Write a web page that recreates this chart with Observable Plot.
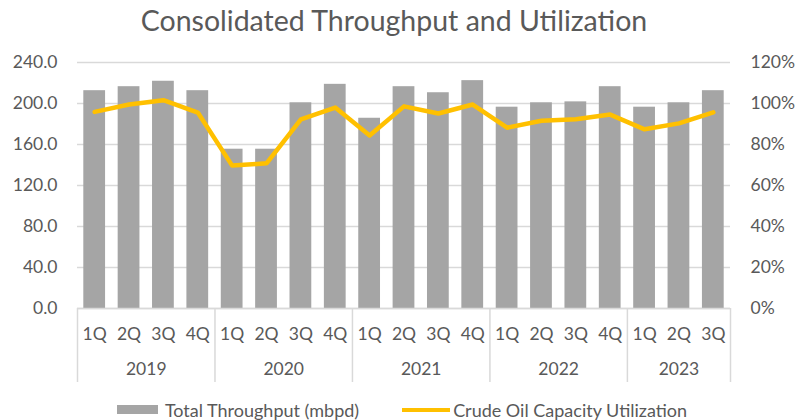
<!DOCTYPE html>
<html><head><meta charset="utf-8">
<script src="https://cdn.jsdelivr.net/npm/d3@7"></script>
<script src="https://cdn.jsdelivr.net/npm/@observablehq/plot@0.6"></script>
<style>
body{margin:0;background:#fff;font-family:Lato,"Open Sans",sans-serif;width:796px;height:420px;overflow:hidden}
#title{height:44px;line-height:40px;text-align:center;font-size:28.5px;color:#595959;padding-right:8px}
#legend{height:21px;display:flex;justify-content:center;align-items:center;font-size:18px;color:#595959;padding-left:8px}
.sw{display:inline-block;width:41px;height:9px;background:#a5a5a5;margin-right:7px}
.ln{display:inline-block;width:48px;height:4px;background:#ffc000;margin-right:3px;margin-left:43px}
</style></head>
<body>
<div id="title">Consolidated Throughput and Utilization</div>
<div id="chart"></div>
<div id="legend"><span class="sw"></span>Total Throughput (mbpd)<span class="ln"></span>Crude Oil Capacity Utilization</div>
<script>
const quarterLabels = ["1Q","2Q","3Q","4Q","1Q","2Q","3Q","4Q","1Q","2Q","3Q","4Q","1Q","2Q","3Q","4Q","1Q","2Q","3Q"];
const yearLabels = ["2019","2020","2021","2022","2023"];
const quartersPerYear = [4,4,4,4,3];
const throughput = [212.5,216.4,221.7,212.5,155.4,155.4,200.7,218.7,185.6,216.4,210.5,222.3,196.4,200.7,201.6,216.4,196.4,200.7,212.5];
const utilization = [95.9,99.5,101.6,95.6,69.7,70.8,92.3,98.0,84.4,98.6,95.1,99.5,88.2,91.6,92.3,94.6,87.4,90.3,95.7];
const leftTicks = [0,40,80,120,160,200,240];
const rightTicks = [0,20,40,60,80,100,120];

const data = throughput.map((v,i)=>({i, q:quarterLabels[i], v, u:utilization[i]}));
const bounds = [0]; const centers = [];
quartersPerYear.forEach(n=>{const s=bounds[bounds.length-1]; centers.push(s+n/2); bounds.push(s+n);});
const n = throughput.length;
const k = 240/120; // right axis 120% maps onto left 240

const grid = "#d9d9d9", txt = "#595959", fs = 17.5;
const chart = Plot.plot({
  width: 796, height: 355,
  marginLeft: 77, marginRight: 66, marginTop: 18, marginBottom: 91,
  style: {fontFamily: "Lato, 'Open Sans', sans-serif", fontSize: fs + "px", color: txt, background: "#fff", overflow: "visible"},
  x: {type: "linear", domain: [0, n], axis: null},
  y: {domain: [0, 240], axis: null},
  marks: [
    Plot.gridY(leftTicks, {stroke: grid, strokeOpacity: 1, strokeWidth: 1.5}),
    Plot.axisY(leftTicks, {anchor: "left", label: null, tickSize: 0, tickPadding: 20, tickFormat: d => d.toFixed(1), fill: txt, fontSize: fs}),
    Plot.axisY(rightTicks.map(d=>d*k), {anchor: "right", label: null, tickSize: 0, tickPadding: 20, tickFormat: d => (d/k) + "%", fill: txt, fontSize: fs, textAnchor: "start"}),
    Plot.rectY(data, {x: "i", interval: 1, y: "v", fill: "#a5a5a5", insetLeft: 6.3, insetRight: 6.3}),
    Plot.ruleY([0], {stroke: grid, strokeWidth: 1.5}),
    Plot.lineY(data, {x: d => d.i + 0.5, y: d => d.u * k, stroke: "#ffc000", strokeWidth: 4.5, strokeLinejoin: "round"}),
    Plot.axisX(bounds, {anchor: "bottom", label: null, tickSize: 74, tickFormat: () => "", stroke: grid, strokeWidth: 1.5}),
    Plot.axisX(data.map(d=>d.i+0.5), {anchor: "bottom", label: null, tickSize: 0, tickPadding: 19, tickFormat: (d) => quarterLabels[Math.floor(d)], fill: txt, fontSize: fs}),
    Plot.axisX(centers, {anchor: "bottom", label: null, tickSize: 0, tickPadding: 54, tickFormat: (d,j) => yearLabels[j], fill: txt, fontSize: fs})
  ]
});
document.getElementById("chart").append(chart);
</script>
</body></html>
